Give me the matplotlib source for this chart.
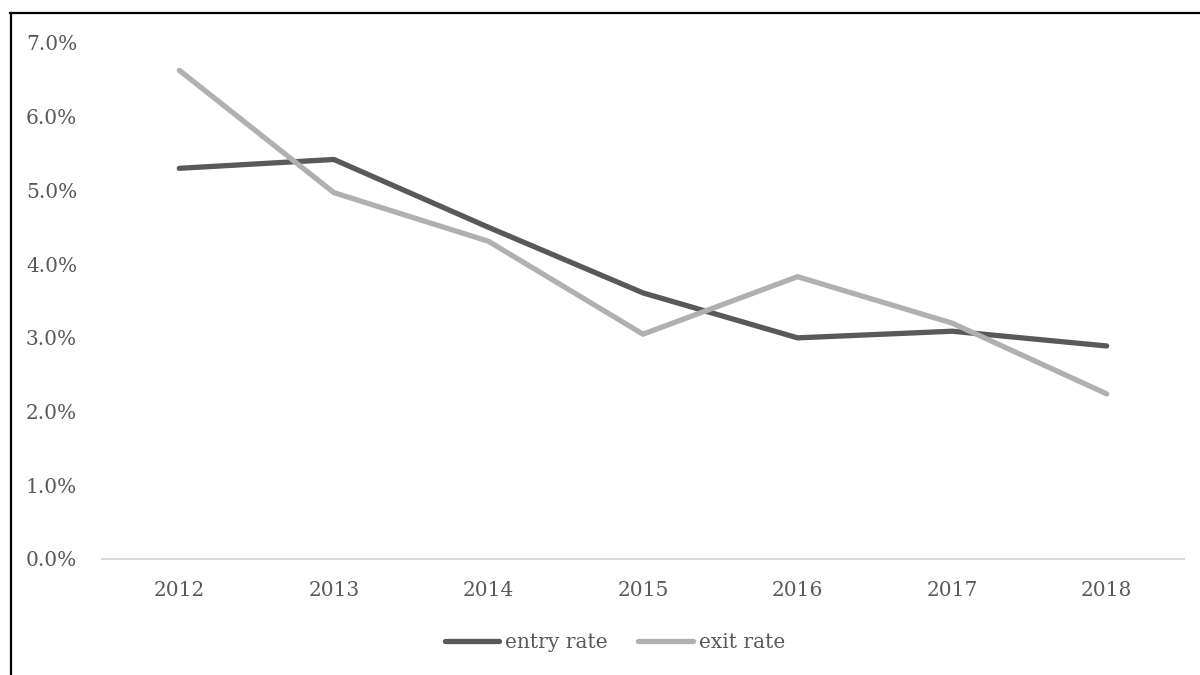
import matplotlib
matplotlib.use("Agg")
import matplotlib.pyplot as plt
from matplotlib.lines import Line2D
from matplotlib.ticker import FuncFormatter

years = ["2012", "2013", "2014", "2015", "2016", "2017", "2018"]
entry_rate = [0.0530, 0.0542, 0.0450, 0.0361, 0.0300, 0.0309, 0.0289]
exit_rate = [0.0663, 0.0497, 0.0431, 0.0305, 0.0383, 0.0320, 0.0224]

plt.rcParams['font.family'] = ['DejaVu Serif']
text_color = "#595959"
fs = 14.5

fig = plt.figure(figsize=(12, 6.75), dpi=100)
ax = fig.add_axes([102/1200, 1-559/675, (1184-102)/1200, (559-43)/675])

x = list(range(len(years)))
ax.plot(x, entry_rate, color="#595959", lw=3.8, solid_capstyle="round", solid_joinstyle="round", label="entry rate")
ax.plot(x, exit_rate, color="#B0B0B0", lw=3.8, solid_capstyle="round", solid_joinstyle="round", label="exit rate")

ax.set_xlim(-0.5, len(years) - 0.5)
ax.set_ylim(0, 0.07)
ax.set_xticks(x)
ax.set_xticklabels(years)
ax.set_yticks([i / 100 for i in range(8)])
ax.yaxis.set_major_formatter(FuncFormatter(lambda v, p: f"{v*100:.1f}%"))

for s in ["top", "right", "left"]:
    ax.spines[s].set_visible(False)
ax.spines["bottom"].set_color("#D9D9D9")
ax.spines["bottom"].set_linewidth(1.5)
ax.tick_params(axis="both", length=0, labelsize=fs, colors=text_color)
ax.tick_params(axis="y", pad=18)
ax.tick_params(axis="x", pad=16)

leg = fig.legend(loc="center", bbox_to_anchor=(615/1200, 1-643/675), ncol=2, frameon=False,
                 fontsize=fs, handlelength=2.7, handletextpad=0.3, columnspacing=1.5)
for t in leg.get_texts():
    t.set_color(text_color)

# outer border lines
fig.add_artist(Line2D([10/1200, 1], [1-12.5/675, 1-12.5/675], color="black", lw=1.6, transform=fig.transFigure))
fig.add_artist(Line2D([10.5/1200, 10.5/1200], [0, 1-12.5/675], color="black", lw=1.6, transform=fig.transFigure))

fig.savefig("out.png", dpi=100, facecolor="white")
